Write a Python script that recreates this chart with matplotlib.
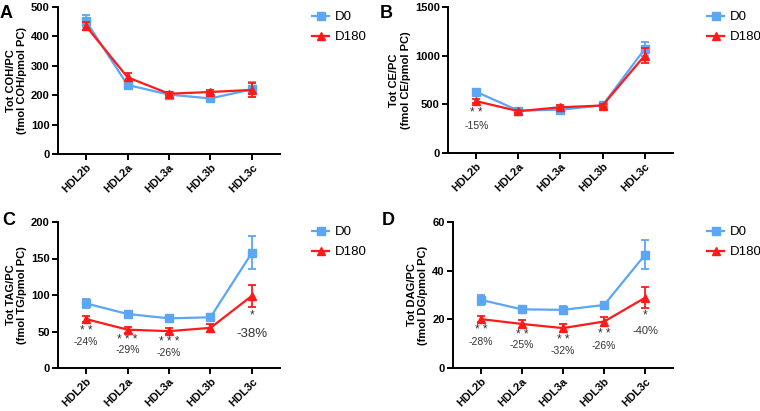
import matplotlib
matplotlib.use("Agg")
import matplotlib.pyplot as plt
from matplotlib.lines import Line2D

plt.rcParams["font.family"] = ["Liberation Sans", "DejaVu Sans"]

categories = ["HDL2b", "HDL2a", "HDL3a", "HDL3b", "HDL3c"]

coh_d0 = [452, 235, 202, 189, 220]
coh_d0_err = [20, 8, 6, 6, 25]
coh_d180 = [435, 261, 205, 211, 218]
coh_d180_err = [14, 14, 5, 8, 25]

ce_d0 = [628, 435, 445, 490, 1067]
ce_d0_err = [15, 15, 20, 12, 75]
ce_d180 = [532, 430, 470, 488, 1000]
ce_d180_err = [22, 15, 20, 12, 80]

tag_d0 = [88.5, 74, 68, 69.5, 158]
tag_d0_err = [6, 4, 3, 5, 23]
tag_d180 = [67, 52.5, 50.5, 55, 99]
tag_d180_err = [4, 4, 4, 5, 15]

dag_d0 = [28, 24.1, 23.9, 25.9, 46.6]
dag_d0_err = [2, 1.5, 1.5, 1, 6]
dag_d180 = [20.1, 18.1, 16.4, 19.1, 28.9]
dag_d180_err = [1.3, 1.7, 1.5, 1.7, 4.4]

# (category index, y, text, fontsize)
ce_notes = [(0, 409, "* *", 8.5), (0, 275, "-15%", 7.5)]
tag_notes = [(0, 51, "* *", 8.5), (0, 36, "-24%", 7.5),
             (1, 38, "* * *", 8.5), (1, 24, "-29%", 7.5),
             (2, 36, "* * *", 8.5), (2, 20, "-26%", 7.5),
             (4, 72, "*", 8.5), (4, 47, "-38%", 9.5)]
dag_notes = [(0, 15.5, "* *", 8.5), (0, 10.6, "-28%", 7.5),
             (1, 13.7, "* *", 8.5), (1, 9.5, "-25%", 7.5),
             (2, 11.7, "* *", 8.5), (2, 6.8, "-32%", 7.5),
             (3, 13.8, "* *", 8.5), (3, 9.1, "-26%", 7.5),
             (4, 21.6, "*", 8.5), (4, 15.3, "-40%", 8)]

BLUE = "#5ba6f5"
RED = "#ff1a1a"
W, H = 760, 411


def px_axes(fig, left, right, top, bottom):
    return fig.add_axes([left / W, 1 - bottom / H, (right - left) / W, (bottom - top) / H])


def panel(fig, box, d0, d0_err, d180, d180_err, ylim, yticks, ylabel, letter, letter_xy, legend_x, notes):
    ax = px_axes(fig, *box)
    x = list(range(len(categories)))
    ax.errorbar(x, d0, yerr=d0_err, color=BLUE, marker="s", markersize=6, linewidth=1.6,
                elinewidth=1.3, capsize=3, capthick=1.3, zorder=3)
    ax.errorbar(x, d180, yerr=d180_err, color=RED, marker="^", markersize=6, linewidth=1.6,
                elinewidth=1.3, capsize=3, capthick=1.3, zorder=4)
    ax.set_xlim(-0.675, 4.675)
    ax.set_ylim(*ylim)
    ax.set_yticks(yticks)
    ax.set_xticks(x)
    ax.set_xticklabels(categories, rotation=45, ha="right", rotation_mode="anchor",
                       fontsize=8, fontweight="bold")
    for lab in ax.get_yticklabels():
        lab.set_fontsize(8)
        lab.set_fontweight("bold")
    ax.set_ylabel(ylabel, fontsize=8, fontweight="bold", labelpad=3, linespacing=1.15)
    for side in ["top", "right"]:
        ax.spines[side].set_visible(False)
    for side in ["left", "bottom"]:
        ax.spines[side].set_linewidth(1.4)
    ax.tick_params(width=1.4, length=4, pad=2)
    for i, y, text, size in notes:
        ax.text(i, y, text, ha="center", va="center", fontsize=size, color="#333333")
    fig.text(letter_xy[0] / W, 1 - letter_xy[1] / H, letter, fontsize=13, fontweight="bold",
             ha="left", va="center")
    handles = [Line2D([], [], color=BLUE, marker="s", markersize=5.5, linewidth=1.6),
               Line2D([], [], color=RED, marker="^", markersize=5.5, linewidth=1.6)]
    ax.legend(handles, ["D0", "D180"], frameon=False, fontsize=9.5, loc="upper left",
              bbox_to_anchor=(legend_x / W, 1 - 4 / H - (box[2] / H)),
              bbox_transform=fig.transFigure, handlelength=1.3, handletextpad=0.4,
              labelspacing=0.6, borderaxespad=0, borderpad=0)
    return ax


fig = plt.figure(figsize=(W / 100, H / 100), dpi=100)

panel(fig, (58, 280, 7, 154), coh_d0, coh_d0_err, coh_d180, coh_d180_err, (0, 500),
      [0, 100, 200, 300, 400, 500], "Tot COH/PC\n(fmol COH/pmol PC)", "A", (0, 13), 312, [])
panel(fig, (448, 673, 7, 153), ce_d0, ce_d0_err, ce_d180, ce_d180_err, (0, 1500),
      [0, 500, 1000, 1500], "Tot CE/PC\n(fmol CE/pmol PC)", "B", (380, 13), 707, ce_notes)
panel(fig, (58, 280, 222, 368), tag_d0, tag_d0_err, tag_d180, tag_d180_err, (0, 200),
      [0, 50, 100, 150, 200], "Tot TAG/PC\n(fmol TG/pmol PC)", "C", (2, 220), 312, tag_notes)
panel(fig, (453, 673, 222, 368), dag_d0, dag_d0_err, dag_d180, dag_d180_err, (0, 60),
      [0, 20, 40, 60], "Tot DAG/PC\n(fmol DG/pmol PC)", "D", (382, 220), 707, dag_notes)

fig.savefig("out.png", dpi=100, facecolor="white")
